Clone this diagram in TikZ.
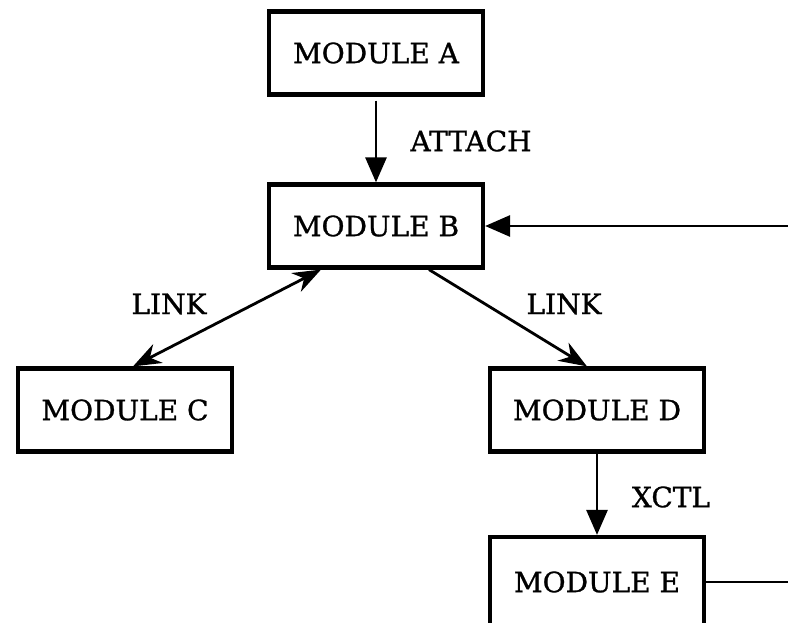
\documentclass[tikz,border=0pt]{standalone}
\usepackage{fontspec}
\setmainfont[FakeBold=1]{DejaVu Serif}
\usetikzlibrary{arrows.meta,calc}
\tikzstyle{moduleBox}=[shape = rectangle, draw, line width = 4.2pt, minimum width = 214pt, minimum height = 83pt, inner sep = 0pt, font = \fontsize{28}{32}\selectfont]
\tikzstyle{callLabel}=[font = \fontsize{28}{32}\selectfont, inner sep = 0pt]
\tikzstyle{callEdge}=[line width = 2.8pt, -{Triangle[length = 25pt, width = 21pt]}]
\tikzstyle{linkEdge}=[line width = 2.8pt, -{Stealth[length = 28pt, width = 21pt, inset = 9pt]}]

\begin{document}
\begin{tikzpicture}[x = 1pt, y = -1pt]
\useasboundingbox[fill = white] (0,0) rectangle (788,623);
\node[moduleBox] (modA) at (376,53) {MODULE A};
\node[moduleBox] (modB) at (376,226) {MODULE B};
\node[moduleBox] (modC) at (125,410) {MODULE C};
\node[moduleBox] (modD) at (597,410) {MODULE D};
\node[moduleBox, minimum height = 90pt] (modE) at (597,582) {MODULE E};
\coordinate (retB) at (790,226);
\coordinate (retE) at (790,582);
\node[callLabel] (lblAttach) at (471,141) {ATTACH};
\node[callLabel] (lblLinkC) at (169,304) {LINK};
\node[callLabel] (lblLinkD) at (564,304) {LINK};
\node[callLabel] (lblXctl) at (671,497) {XCTL};
\draw[callEdge, shorten <= 4pt] (modA.south) -- (modB.north);
\draw[callEdge] (retB) -- (modB.east);
\draw[linkEdge, {Stealth[length = 28pt, width = 21pt, inset = 9pt]}-{Stealth[length = 28pt, width = 21pt, inset = 9pt]}] ([xshift = -55pt]modB.south) -- ([xshift = 8pt]modC.north);
\draw[linkEdge] ([xshift = 53pt]modB.south) -- ([xshift = -10pt]modD.north);
\draw[callEdge] (modD.south) -- (modE.north);
\draw[line width = 2.8pt] (modE.east) -- (retE);
\end{tikzpicture}
\end{document}
